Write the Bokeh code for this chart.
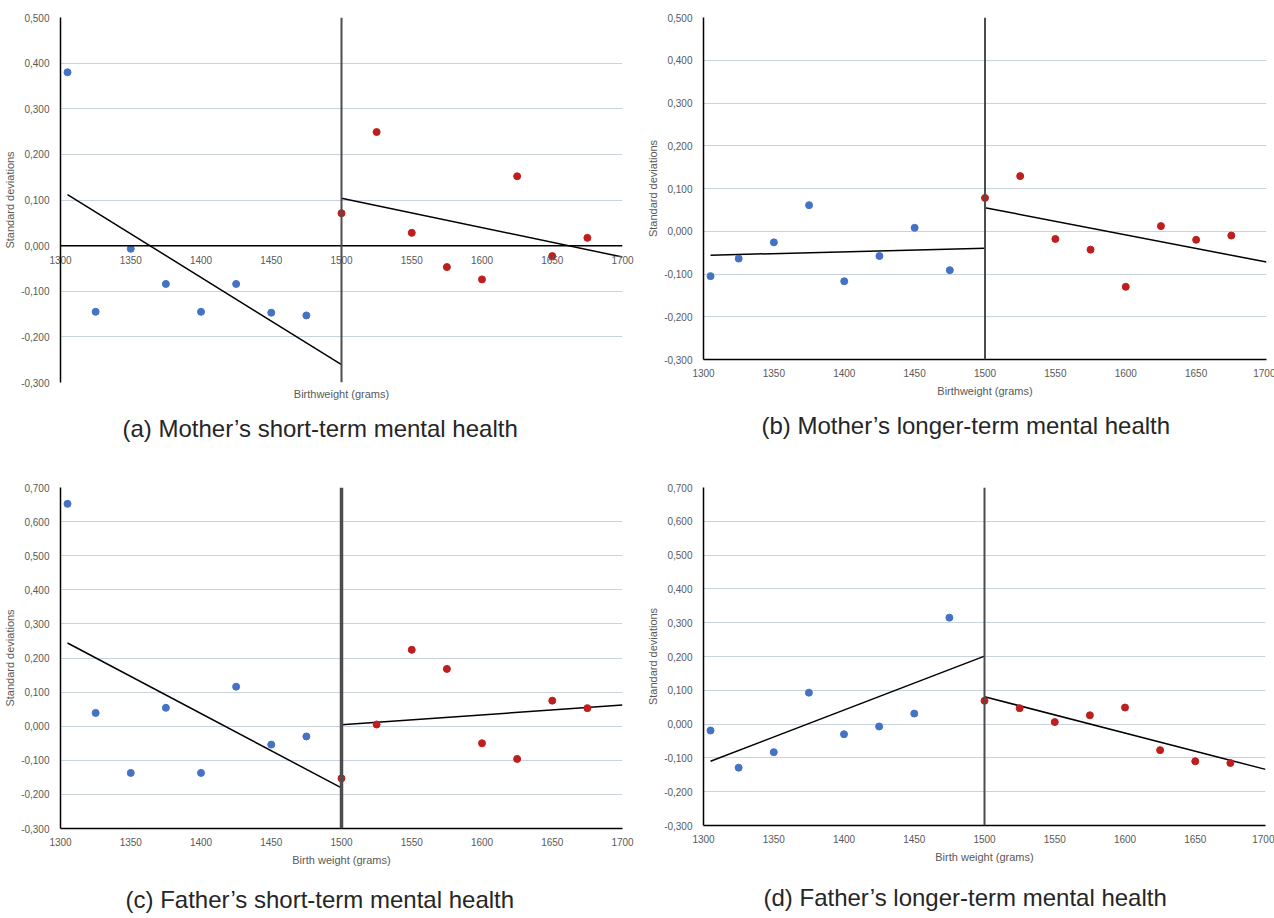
from bokeh.plotting import figure
from bokeh.layouts import column, row
from bokeh.models import (Range1d, FixedTicker, CustomJSTickFormatter, Span, Title, LinearAxis)
from bokeh.embed import file_html
from bokeh.resources import INLINE

# ---------------- data ----------------
x_below = [1305, 1325, 1350, 1375, 1400, 1425, 1450, 1475]
x_above = [1500, 1525, 1550, 1575, 1600, 1625, 1650, 1675]
fit_x_left = [1305, 1500]
fit_x_right = [1500, 1700]

# (a) Mother's short-term mental health
a_below = [0.380, -0.145, -0.007, -0.084, -0.145, -0.084, -0.147, -0.153]
a_above = [0.071, 0.249, 0.028, -0.047, -0.074, 0.152, -0.023, 0.017]
a_fit_left = [0.112, -0.261]
a_fit_right = [0.104, -0.025]

# (b) Mother's longer-term mental health
b_below = [-0.105, -0.064, -0.026, 0.061, -0.117, -0.058, 0.008, -0.091]
b_above = [0.078, 0.129, -0.018, -0.043, -0.130, 0.012, -0.020, -0.010]
b_fit_left = [-0.056, -0.040]
b_fit_right = [0.055, -0.072]

# (c) Father's short-term mental health
c_below = [0.652, 0.039, -0.137, 0.054, -0.137, 0.116, -0.054, -0.030]
c_above = [-0.153, 0.005, 0.224, 0.168, -0.050, -0.096, 0.075, 0.053]
c_fit_left = [0.244, -0.181]
c_fit_right = [0.004, 0.062]

# (d) Father's longer-term mental health
d_below = [-0.019, -0.129, -0.083, 0.093, -0.030, -0.007, 0.031, 0.315]
d_above = [0.069, 0.047, 0.006, 0.026, 0.049, -0.077, -0.110, -0.115]
d_fit_left = [-0.110, 0.201]
d_fit_right = [0.081, -0.134]

x_ticks = [1300, 1350, 1400, 1450, 1500, 1550, 1600, 1650, 1700]
y_ticks_short = [-0.3, -0.2, -0.1, 0.0, 0.1, 0.2, 0.3, 0.4, 0.5]
y_ticks_tall = [-0.3, -0.2, -0.1, 0.0, 0.1, 0.2, 0.3, 0.4, 0.5, 0.6, 0.7]

captions = ["(a) Mother\u2019s short-term mental health",
            "(b) Mother\u2019s longer-term mental health",
            "(c) Father\u2019s short-term mental health",
            "(d) Father\u2019s longer-term mental health"]

BLUE = "#4472C4"
RED = "#BE1E1E"
GRID = "#CAD3DC"
TXT = "#595959"
FONT = "Liberation Sans"


def make_panel(below, above, fit_l, fit_r, yticks, caption, xlabel, fw, fh,
               bl, br, bt, bb, zero_axis=False, vline_w=2.0, cap_offset=60, cap_standoff=10):
    p = figure(frame_width=fw, frame_height=fh, output_backend="svg", toolbar_location=None,
               x_range=Range1d(1300, 1700), y_range=Range1d(yticks[0], yticks[-1]),
               min_border_left=bl, min_border_right=br, min_border_top=bt, min_border_bottom=bb)
    p.outline_line_color = None
    p.background_fill_color = "white"
    p.border_fill_color = "white"
    p.xgrid.grid_line_color = None
    p.ygrid.grid_line_color = GRID
    p.ygrid.grid_line_width = 1
    p.ygrid.ticker = FixedTicker(ticks=yticks)

    fmt = CustomJSTickFormatter(code="return tick.toFixed(3).replace('.', ',');")
    for ax in p.yaxis:
        ax.ticker = FixedTicker(ticks=yticks)
        ax.formatter = fmt
        ax.axis_label = "Standard deviations"
        ax.axis_label_text_font = FONT
        ax.axis_label_text_font_size = "11px"
        ax.axis_label_text_font_style = "normal"
        ax.axis_label_text_color = TXT
        ax.axis_label_standoff = 2
        ax.major_label_text_font = FONT
        ax.major_label_text_font_size = "10px"
        ax.major_label_text_color = TXT
        ax.major_label_standoff = 5
        ax.major_tick_line_color = None
        ax.minor_tick_line_color = None
        ax.axis_line_color = "black"
        ax.axis_line_width = 1.5

    for ax in p.xaxis:
        ax.ticker = FixedTicker(ticks=x_ticks)
        ax.major_label_text_font = FONT
        ax.major_label_text_font_size = "10px"
        ax.major_label_text_color = TXT
        ax.major_label_standoff = 3
        ax.major_tick_line_color = None
        ax.minor_tick_line_color = None
        ax.axis_line_color = "black"
        ax.axis_line_width = 1.5
        ax.axis_label_text_font = FONT
        ax.axis_label_text_font_size = "11px"
        ax.axis_label_text_font_style = "normal"
        ax.axis_label_text_color = TXT
        ax.axis_label_standoff = 5
        if zero_axis:
            # tick labels sit just under the zero line, as in the original chart
            y0, y1 = yticks[0], yticks[-1]
            dist = fh * (0 - y0) / (y1 - y0)
            ax.axis_line_color = None
            ax.major_label_standoff = int(round(-dist + 4))
        else:
            ax.axis_label = xlabel

    if zero_axis:
        p.add_layout(Span(location=0, dimension="width", line_color="black", line_width=1.5))
        lab_ax = LinearAxis(axis_label=xlabel, ticker=FixedTicker(ticks=[]),
                            axis_line_color=None, major_tick_line_color=None,
                            minor_tick_line_color=None, major_label_text_font_size="0px",
                            axis_label_text_font=FONT, axis_label_text_font_size="11px",
                            axis_label_text_font_style="normal", axis_label_text_color=TXT,
                            axis_label_standoff=5, major_label_standoff=0)
        p.add_layout(lab_ax, "below")

    p.add_layout(Span(location=1500, dimension="height", line_color="#4d4d4d",
                      line_width=vline_w))

    p.line(fit_x_left, fit_l, line_color="black", line_width=1.5)
    p.line(fit_x_right, fit_r, line_color="black", line_width=1.5)
    p.scatter(x_below, below, size=7, fill_color=BLUE, line_color=BLUE)
    p.scatter(x_above, above, size=7, fill_color=RED, line_color=RED)

    p.add_layout(Title(text=caption, align="left", text_font=FONT, text_font_size="24px",
                       text_font_style="normal", text_color="#262626", offset=cap_offset,
                       standoff=cap_standoff), "below")
    return p


pa = make_panel(a_below, a_above, a_fit_left, a_fit_right, y_ticks_short, captions[0],
                "Birthweight (grams)", 562, 365, 60, 22, 17, 78, zero_axis=True,
                cap_offset=62, cap_standoff=20)
pb = make_panel(b_below, b_above, b_fit_left, b_fit_right, y_ticks_short, captions[1],
                "Birthweight (grams)", 563, 342, 58, 9, 17, 101,
                cap_offset=58, cap_standoff=20)
pc = make_panel(c_below, c_above, c_fit_left, c_fit_right, y_ticks_tall, captions[2],
                "Birth weight (grams)", 562, 341, 60, 22, 27, 89, vline_w=3.5,
                cap_offset=65, cap_standoff=31)
pd_ = make_panel(d_below, d_above, d_fit_left, d_fit_right, y_ticks_tall, captions[3],
                 "Birth weight (grams)", 562, 338, 59, 9, 27, 92,
                 cap_offset=60, cap_standoff=32)

layout = column(row(pa, pb), row(pc, pd_))

open("out.html", "w").write(file_html(layout, INLINE))
